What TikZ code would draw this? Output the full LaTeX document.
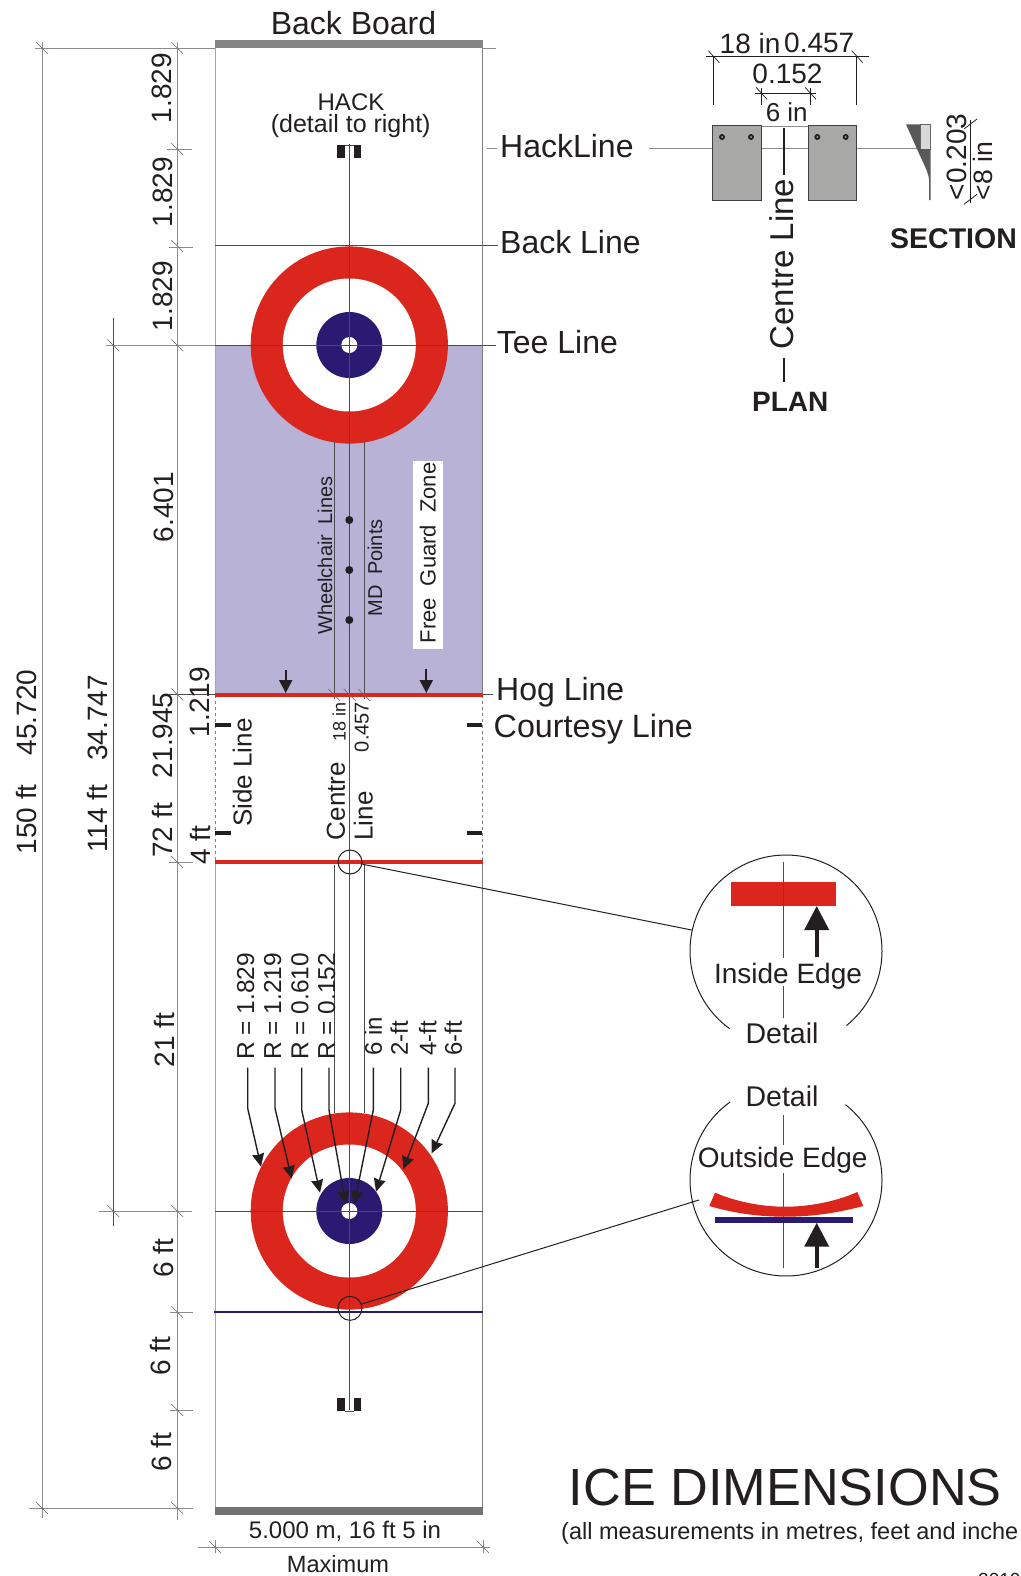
\documentclass[tikz,border=0pt]{standalone}
\usepackage{fontspec}
\usepackage{tikz}
\usetikzlibrary{calc,arrows.meta}
\setmainfont{Liberation Sans}
\definecolor{rinkred}{HTML}{DA261C}
\definecolor{rinkblue}{HTML}{2A1A72}
\definecolor{guardzone}{HTML}{B7B2D6}
\definecolor{inkdark}{HTML}{231F20}
\definecolor{hackgrey}{HTML}{A8A8A6}
\newcommand{\sized}[1]{\fontsize{#1}{#1}\selectfont}

\begin{document}
\begin{tikzpicture}[x=1pt, y=-1pt, line cap=butt,
    txt/.style={inner sep=0pt, text=inkdark, font=\sized{#1}},
    txt/.default=28,
    upright/.style={txt=#1, rotate=90},
    upright/.default=28,
    dimline/.style={draw=black!45, line width=0.9pt},
    fineline/.style={draw=black!70, line width=0.8pt},
    slash/.style={draw=black!60, line width=0.5pt},
    pointer/.style={draw=inkdark, line width=1.4pt, -{Stealth[length=13pt, width=12pt, inset=1pt]}},
    bigarrow/.style={draw=inkdark, line width=4pt, -{Triangle[length=24pt, width=24pt]}},
    hogarrow/.style={draw=inkdark, line width=2pt, -{Triangle[length=13pt, width=13pt]}},
    block/.style={fill=hackgrey, draw=black!75, line width=0.9pt}]
    \useasboundingbox (0,0) rectangle (1020,1576);
    \fill[white] (0,0) rectangle (1020,1576);

    \fill[guardzone] (215,345) rectangle (483,695);
    \foreach \cy in {345,1211} {
        \fill[rinkred] (349.3,\cy) circle[radius=98.6];
        \fill[white] (349.3,\cy) circle[radius=66.5];
        \fill[rinkblue] (349.3,\cy) circle[radius=33];
        \fill[white] (349.3,\cy) circle[radius=8];
    }
    \fill[black!48] (215,40) rectangle (483,48);
    \fill[black!55] (215,1507) rectangle (483,1515);

    \draw[draw=black!35, line width=1pt] (215,48) -- (215,695) (215,862) -- (215,1507);
    \draw[draw=black!50, line width=1pt] (482.7,48) -- (482.7,695) (482.7,862) -- (482.7,1507);
    \draw[draw=black!50, line width=0.7pt, dashed] (215,695) -- (215,862) (482.7,695) -- (482.7,862);

    \draw[fineline] (334.3,442) -- (334.3,699) (363.9,442) -- (363.9,699);
    \draw[fineline] (334.3,865) -- (334.3,1113) (364.3,865) -- (364.3,1113);
    \draw[fineline] (349.3,144) -- (349.3,1410);

    \draw[fineline] (215,245) -- (497.7,245);
    \draw[fineline] (215,345.3) -- (496,345.3);
    \draw[fineline] (215,1211) -- (483,1211);
    \draw[dimline] (487,148.7) -- (497,148.7);
    \draw[fineline] (169,694.5) -- (215,694.5) (482,694.5) -- (493,694.5);
    \draw[line width=4pt, draw=rinkred] (215,695) -- (482.7,695);
    \draw[line width=4pt, draw=rinkred] (215,862) -- (482.7,862);
    \draw[line width=2pt, draw=rinkblue] (214,1312) -- (482.7,1312);

    \foreach \tx/\ty in {215/725,215/832.7} \fill[inkdark] (\tx,\ty-2) rectangle (\tx+16,\ty+2);
    \foreach \ty in {725,832.7} \fill[inkdark] (467,\ty-2) rectangle (482,\ty+2);

    \foreach \dy/\dh in {145/158,1398/1411} {
        \fill[inkdark] (337.3,\dy) rectangle (345,\dh);
        \fill[inkdark] (353.5,\dy) rectangle (361.3,\dh);
    }
    \draw[fineline] (345,145) -- (353.5,145) (345,1411) -- (353.5,1411);

    \foreach \py in {520,570,620} \fill[inkdark] (349.3,\py) circle[radius=4];

    \node[fill=white, minimum width=30pt, minimum height=188pt, inner sep=0pt] (fgzbox) at (427.7,554.7) {};
    \node[upright=22] (fgz) at (427.7,553) {Free\hspace{6pt} Guard\hspace{6pt} Zone};
    \node[upright=20] (wheelchair) at (325,555.5) {Wheelchair\hspace{5pt} Lines};
    \node[upright=20] (mdpoints) at (375,568) {MD\hspace{5pt} Points};

    \draw[hogarrow] (285.7,670) -- (285.7,693);
    \draw[hogarrow] (426.3,669) -- (426.3,693);

    \foreach \sx in {334.3,349.7,364.3} \draw[slash] (\sx-6,689) -- (\sx+6,701);

    \node[upright=26] (sideline) at (242.3,772.5) {Side Line};
    \node[upright=26] (centre) at (336,801) {Centre};
    \node[upright=26] (centrel) at (363.3,816) {Line};
    \node[upright=18] (eighteen) at (339.3,722) {18 in};
    \node[upright=20] (ozfs) at (361.7,727) {0.457};

    \node[txt=32] (backboard) at (353.5,23) {Back Board};
    \node[txt=24] (hack) at (351,102) {HACK};
    \node[txt=25] (hackdetail) at (350.7,126) {(detail to right)};

    \node[txt=32, anchor=west] (hackline) at (500,146) {HackLine};
    \node[txt=32, anchor=west] (backline) at (500,242) {Back Line};
    \node[txt=32, anchor=west] (teeline) at (496.7,342.5) {Tee Line};
    \node[txt=32, anchor=west] (hogline) at (496,692) {Hog Line};
    \node[txt=32.3, anchor=west] (courtesy) at (493.5,729) {Courtesy Line};

    \draw[dimline] (42,42) -- (42,1518);
    \draw[dimline] (177.3,42) -- (177.3,1520);
    \draw[fineline] (113.3,318) -- (113.3,1226);
    \draw[dimline] (35,48) -- (215,48) (483,48) -- (496,48);
    \draw[dimline] (167,149) -- (192,149);
    \draw[dimline] (169,247) -- (193,247);
    \draw[dimline] (106,345.3) -- (215,345.3);
    \draw[dimline] (169,862) -- (193,862);
    \draw[dimline] (99,1211) -- (192,1211);
    \draw[dimline] (170,1312) -- (193,1312);
    \draw[dimline] (170,1410) -- (193,1410);
    \draw[dimline] (29,1508) -- (193,1508);
    \draw[dimline] (198,1547) -- (490,1547);
    \draw[dimline] (215,1540) -- (215,1553) (483,1540) -- (483,1553);
    \foreach \sy in {48,149,246,345.3,694.5,862,1211,1312,1410,1508} \draw[slash] (171.3,\sy-6) -- (183.3,\sy+6);
    \foreach \sx/\sy in {42/48,42/1508,113.3/345.3,113.3/1211,215/1547,483/1547} \draw[slash] (\sx-6,\sy-6) -- (\sx+6,\sy+6);

    \node[upright] (dima) at (162,88) {1.829};
    \node[upright] (dimb) at (163,192) {1.829};
    \node[upright] (dimc) at (163,296) {1.829};
    \node[upright] (dimd) at (164,507) {6.401};
    \node[upright] (dime) at (163,775) {72 ft\hspace{25pt}21.945};
    \node[upright] (dimf) at (200,702) {1.219};
    \node[upright] (dimg) at (200,845) {4 ft};
    \node[upright] (dimh) at (164,1040) {21 ft};
    \node[upright] (dimi) at (164,1258) {6 ft};
    \node[upright] (dimj) at (161,1356) {6 ft};
    \node[upright] (dimk) at (162,1452) {6 ft};
    \node[upright] (overall) at (27,762) {150 ft\hspace{29pt}45.720};
    \node[upright] (teetotee) at (97.5,764) {114 ft\hspace{24pt}34.747};

    \node[txt=24] (width) at (345,1531) {5.000 m, 16 ft 5 in};
    \node[txt=23.6] (maximum) at (338,1564) {Maximum};

    \foreach \rx/\rn/\rlab in {245.7/ra/R = 1.829,272.7/rb/R = 1.219,300/rc/R = 0.610,326.7/rd/R = 0.152}
        \node[upright=24.5, anchor=west] (\rn) at (\rx,1060) {\rlab};
    \foreach \rx/\rn/\rlab in {373.3/fa/6 in,399.3/fb/2-ft,427.7/fc/4-ft,453.3/fd/6-ft}
        \node[upright=24, anchor=west] (\rn) at (\rx,1056) {\rlab};
    \draw[pointer] (247.7,1067.7) -- (247.7,1108.3) -- (261,1166.7);
    \draw[pointer] (275,1067.7) -- (275,1108.3) -- (291.7,1178.7);
    \draw[pointer] (301.7,1067.7) -- (301.7,1110) -- (320,1192.7);
    \draw[pointer] (329,1067.7) -- (329,1110) -- (345.7,1204);
    \draw[pointer] (373.3,1067.7) -- (373.3,1110) -- (354.3,1204);
    \draw[pointer] (400.7,1067.7) -- (400.7,1110) -- (376,1191.7);
    \draw[pointer] (428.3,1067.7) -- (428.3,1103.3) -- (403.3,1169.3);
    \draw[pointer] (455,1067.7) -- (455,1103.3) -- (431.7,1153.3);

    \node[circle, draw=inkdark, line width=1pt, minimum size=24pt, inner sep=0pt] (insidemark) at (350,862) {};
    \node[circle, draw=inkdark, line width=1pt, minimum size=24pt, inner sep=0pt] (outsidemark) at (350,1308.3) {};
    \coordinate (insidedetail) at (786,951);
    \coordinate (outsidedetail) at (786,1180);
    \draw[draw=inkdark, line width=1pt] (insidemark.-10) -- (691.7,930);
    \draw[draw=inkdark, line width=1pt] (outsidemark.20) -- (699,1200);

    \draw[draw=inkdark, line width=1pt] ($(insidedetail)+(-51:96pt)$) arc[start angle=-51, end angle=234, radius=96pt];
    \draw[draw=inkdark, line width=1pt] ($(outsidedetail)+(125.6:96pt)$) arc[start angle=125.6, end angle=411.7, radius=96pt];

    \fill[rinkred] (731,882) rectangle (836,906);
    \draw[fineline] (783.3,862) -- (783.3,958) (783.3,986) -- (783.3,1018);
    \draw[bigarrow] (816.7,957) -- (816.7,906);
    \node[txt] (insideedge) at (788,976) {Inside Edge};
    \node[txt=28.5] (detailin) at (782,1033) {Detail};

    \node[txt=28.5] (detailout) at (782,1096) {Detail};
    \node[txt] (outsideedge) at (782.7,1160) {Outside Edge};
    \draw[fineline] (783.3,1115) -- (783.3,1145) (783.3,1173) -- (783.3,1268);
    \fill[rinkred] (715,1192.7) .. controls (737,1202) and (762,1206.7) .. (785,1206.7)
        .. controls (808,1206.7) and (835,1202) .. (857.3,1192) -- (863.3,1206)
        .. controls (837,1213) and (812,1216.7) .. (785,1216.7)
        .. controls (758,1216.7) and (733,1213) .. (709.3,1206) -- cycle;
    \fill[rinkblue] (715,1216.7) rectangle (852.7,1222.7);
    \draw[bigarrow] (816.7,1268) -- (816.7,1222.7);

    \draw[dimline] (649,148.7) -- (713,148.7) (761,148.7) -- (808,148.7) (856,148.7) -- (917,148.7);
    \draw[dimline] (761,126) -- (808,126);
    \node[block, minimum width=48.3pt, minimum height=75pt, inner sep=0pt] (leftblock) at (736.8,162.8) {};
    \node[block, minimum width=48.3pt, minimum height=75pt, inner sep=0pt] (rightblock) at (832.2,162.8) {};
    \foreach \hx in {722,751,817.3,845.7} {
        \fill[inkdark] (\hx,137) circle[radius=3];
        \fill[hackgrey] (\hx,137) circle[radius=1];
    }
    \draw[draw=inkdark, line width=1.1pt] (784,128) -- (784,175) (784,358) -- (784,382);
    \node[upright=33] (centreline) at (782,264) {Centre Line};
    \node[txt=28, font=\sized{28}\bfseries] (plan) at (790.3,402) {PLAN};

    \draw[draw=inkdark, line width=0.9pt] (706,56.7) -- (869,56.7);
    \draw[draw=inkdark, line width=0.9pt] (713.3,56.7) -- (713.3,105) (856.7,56.7) -- (856.7,105);
    \draw[draw=inkdark, line width=0.9pt] (755,93.3) -- (816,93.3);
    \draw[draw=inkdark, line width=0.9pt] (761,88) -- (761,105) (810,88) -- (810,105);
    \foreach \sx/\sy in {713.3/56.7,856.7/56.7,761/93.3,810/93.3} \draw[draw=inkdark, line width=0.7pt] (\sx-5,\sy-6) -- (\sx+6,\sy+6);
    \node[txt, anchor=west] (hackwidth) at (719.5,43) {18 in};
    \node[txt, anchor=east] (hackmetric) at (854.5,43) {0.457};
    \node[txt] (gapmetric) at (787.5,74) {0.152};
    \node[txt=26] (gapwidth) at (786.7,112.5) {6 in};

    \fill[draw=black!60, line width=0.5pt, fill=black!15] (920,124.3) rectangle (930.7,149);
    \fill[black!65!white] (906,124.3) -- (920,124.3) -- (920,149) -- (930.7,149) -- (930.7,200) -- (929,200)
        -- (929,180) .. controls (928.5,172) and (924,165) .. (917,149) -- cycle;
    \draw[draw=inkdark, line width=0.9pt] (970.7,120) -- (970.7,203);
    \foreach \sy in {124,199.3} \draw[draw=inkdark, line width=0.8pt] (964,\sy+5) -- (977,\sy-5);
    \node[upright] (sectionheight) at (956.7,157) {<0.203};
    \node[upright=26.6] (sectioninch) at (983,171) {<8 in};
    \node[txt=28, font=\sized{28.5}\bfseries, anchor=west] (sectiontitle) at (890,239) {SECTION};

    \node[txt=52.3, anchor=west] (title) at (568.5,1487) {ICE DIMENSIONS};
    \node[txt=23.5, anchor=west] (subtitle) at (561,1533) {(all measurements in metres, feet and inche};
    \node[txt=19, anchor=north west] (dateline) at (978,1573) {2010};
\end{tikzpicture}
\end{document}
